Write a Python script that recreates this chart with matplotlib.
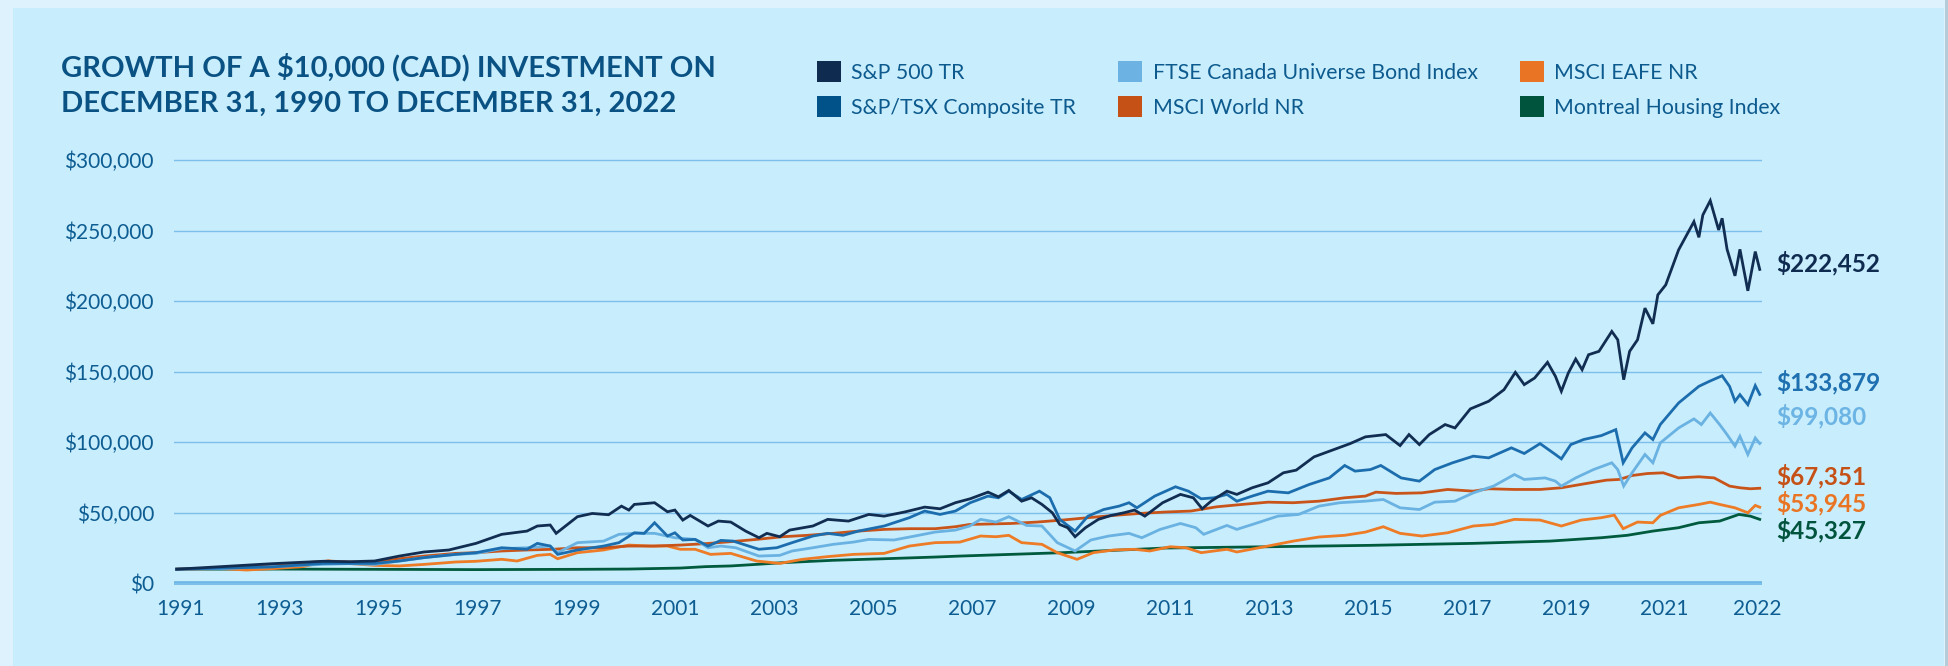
import matplotlib
matplotlib.use("Agg")
import matplotlib.pyplot as plt
import matplotlib.transforms as mtransforms
from matplotlib.patches import Rectangle, Patch

# ---------------- DATA ----------------
series_names = ['S&P 500 TR', 'S&P/TSX Composite TR', 'FTSE Canada Universe Bond Index',
                'MSCI World NR', 'MSCI EAFE NR', 'Montreal Housing Index']

sp500_t = [1991.00, 1991.90, 1992.93, 1993.96, 1994.50, 1995.00, 1995.50, 1996.00, 1996.50, 1997.05,
           1997.57, 1998.08, 1998.29, 1998.55, 1998.67, 1999.10, 1999.40, 1999.73, 1999.99, 2000.14,
           2000.25, 2000.66, 2000.92, 2001.07, 2001.23, 2001.38, 2001.74, 2001.95, 2002.20, 2002.50,
           2002.77, 2002.93, 2003.19, 2003.39, 2003.86, 2004.16, 2004.58, 2004.99, 2005.30, 2005.71,
           2006.12, 2006.43, 2006.74, 2007.04, 2007.40, 2007.61, 2007.82, 2008.08, 2008.28, 2008.49,
           2008.70, 2008.85, 2009.01, 2009.16, 2009.37, 2009.63, 2009.89, 2010.15, 2010.36, 2010.57,
           2010.93, 2011.29, 2011.55, 2011.73, 2011.91, 2012.23, 2012.43, 2012.74, 2013.06, 2013.37,
           2013.63, 2013.99, 2014.30, 2014.72, 2015.03, 2015.44, 2015.73, 2015.91, 2016.12, 2016.32,
           2016.64, 2016.84, 2017.15, 2017.52, 2017.83, 2018.06, 2018.24, 2018.45, 2018.71, 2018.87,
           2018.99, 2019.13, 2019.28, 2019.41, 2019.54, 2019.75, 2020.01, 2020.13, 2020.25, 2020.37,
           2020.53, 2020.68, 2020.84, 2020.94, 2021.10, 2021.36, 2021.67, 2021.77, 2021.85, 2022.00,
           2022.17, 2022.24, 2022.34, 2022.50, 2022.60, 2022.76, 2022.91, 2023.00]
sp500_v = [10000, 11800, 13900, 15600, 15300, 15800, 19300, 22200, 23600, 28300,
           34700, 37000, 40600, 41300, 35400, 47200, 49500, 48600, 54700, 51900,
           55900, 57100, 50700, 51900, 44800, 48100, 40600, 44100, 43400, 37000,
           32300, 35400, 33000, 37700, 40600, 45300, 44100, 48800, 47600, 50500,
           54000, 52800, 57100, 59900, 64600, 61300, 65800, 58200, 60600, 55900,
           50000, 41700, 39400, 33000, 39400, 45300, 48100, 50000, 51900, 47600,
           57100, 63000, 60600, 52800, 58200, 65300, 63000, 67700, 71200, 78300,
           80200, 89600, 93600, 99000, 103800, 105400, 97600, 105400, 98300, 105400,
           112500, 110100, 123600, 129000, 137200, 149500, 140800, 145500, 156600, 146700,
           136100, 149000, 158900, 151400, 162000, 164400, 178500, 172600, 144300, 164400,
           172600, 195000, 183900, 204400, 211500, 236300, 256300, 245200, 261000, 271200,
           250400, 258700, 236700, 217900, 236700, 207300, 235100, 222452]

tsx_t = [1991.00, 1991.90, 1992.93, 1993.96, 1995.00, 1995.50, 1996.00, 1996.64, 1997.05, 1997.57,
         1998.08, 1998.29, 1998.55, 1998.70, 1999.10, 1999.63, 1999.94, 2000.25, 2000.45, 2000.66,
         2000.92, 2001.07, 2001.23, 2001.48, 2001.74, 2002.00, 2002.25, 2002.50, 2002.77, 2003.13,
         2003.44, 2003.86, 2004.16, 2004.47, 2004.78, 2005.30, 2005.81, 2006.12, 2006.43, 2006.74,
         2007.04, 2007.40, 2007.61, 2007.82, 2008.08, 2008.44, 2008.65, 2008.85, 2009.16, 2009.42,
         2009.74, 2010.05, 2010.25, 2010.41, 2010.77, 2011.19, 2011.45, 2011.71, 2011.97, 2012.23,
         2012.43, 2012.74, 2013.06, 2013.47, 2013.89, 2014.30, 2014.61, 2014.82, 2015.13, 2015.34,
         2015.75, 2016.12, 2016.43, 2016.79, 2017.21, 2017.52, 2017.98, 2018.24, 2018.56, 2018.87,
         2018.99, 2019.18, 2019.44, 2019.80, 2020.09, 2020.24, 2020.42, 2020.68, 2020.84, 2020.99,
         2021.36, 2021.77, 2021.98, 2022.24, 2022.39, 2022.50, 2022.60, 2022.76, 2022.91, 2023.00]
tsx_v = [10000, 10800, 11600, 14100, 14100, 15800, 18200, 20500, 21700, 25200,
         24100, 28300, 26400, 20500, 23600, 26400, 28800, 35800, 35400, 42900,
         33500, 35800, 30700, 31100, 26400, 30400, 29900, 27100, 24100, 25200,
         28800, 33500, 35400, 34000, 37000, 40600, 46500, 51200, 48800, 51200,
         57100, 61800, 60600, 65300, 59400, 65300, 60600, 45300, 37000, 47600,
         52300, 54700, 57100, 53500, 61800, 68400, 65300, 59900, 60600, 63000,
         58200, 61800, 65300, 64100, 70000, 74700, 83500, 79500, 80600, 83500,
         74700, 72400, 80600, 85400, 90100, 88900, 96000, 92000, 99000, 91300,
         88200, 98300, 101900, 104700, 108900, 85400, 96000, 106600, 101900, 112500,
         127800, 139600, 143100, 147100, 139600, 129000, 133700, 126600, 140100, 133879]

ftse_t = [1991.00, 1991.90, 1992.93, 1993.96, 1994.47, 1995.00, 1995.50, 1996.00, 1996.64, 1997.05,
          1997.57, 1998.08, 1998.55, 1998.70, 1999.10, 1999.63, 1999.94, 2000.25, 2000.66, 2001.07,
          2001.48, 2001.74, 2002.00, 2002.30, 2002.77, 2003.19, 2003.44, 2003.86, 2004.27, 2004.68,
          2004.99, 2005.50, 2005.92, 2006.33, 2006.74, 2007.03, 2007.25, 2007.56, 2007.82, 2008.18,
          2008.49, 2008.80, 2009.16, 2009.48, 2009.84, 2010.25, 2010.51, 2010.88, 2011.29, 2011.60,
          2011.76, 2012.02, 2012.23, 2012.43, 2012.85, 2013.26, 2013.68, 2014.09, 2014.51, 2015.03,
          2015.39, 2015.73, 2016.12, 2016.43, 2016.84, 2017.21, 2017.62, 2018.04, 2018.24, 2018.66,
          2018.87, 2018.99, 2019.28, 2019.64, 2020.01, 2020.13, 2020.25, 2020.42, 2020.68, 2020.84,
          2020.99, 2021.36, 2021.67, 2021.82, 2022.00, 2022.19, 2022.34, 2022.50, 2022.60, 2022.76,
          2022.91, 2023.00]
ftse_v = [10000, 10400, 11800, 13400, 13900, 13400, 15800, 18200, 20500, 21200,
          24500, 25200, 26400, 21700, 28800, 29900, 34700, 35400, 35400, 32300,
          31100, 25200, 26400, 25200, 19300, 19800, 22900, 25200, 27600, 29200,
          31100, 30700, 33500, 36300, 37700, 40600, 45300, 43400, 47200, 41000,
          40600, 28800, 22900, 30700, 33500, 35400, 32300, 38200, 42400, 39400,
          34700, 38200, 41000, 38200, 42900, 47600, 48800, 54700, 57100, 58200,
          59400, 53500, 52300, 57500, 58200, 64100, 68900, 77100, 73600, 74700,
          72400, 68900, 74700, 80600, 85400, 80600, 68900, 78300, 91300, 85400,
          99500, 110100, 116500, 112500, 120700, 112500, 105400, 97200, 104200, 91300,
          103000, 99080]

world_t = [1991.00, 1991.90, 1992.93, 1994.06, 1994.47, 1995.00, 1995.50, 1996.00, 1996.64, 1997.05,
           1997.57, 1998.08, 1998.60, 1999.10, 1999.63, 2000.14, 2000.66, 2001.18, 2001.69, 2002.20,
           2002.72, 2003.24, 2003.75, 2004.27, 2004.78, 2005.30, 2005.81, 2006.33, 2006.74, 2007.03,
           2007.87, 2008.39, 2008.90, 2009.42, 2009.94, 2010.46, 2010.98, 2011.50, 2012.02, 2012.54,
           2013.06, 2013.57, 2014.09, 2014.61, 2015.03, 2015.24, 2015.65, 2016.17, 2016.69, 2017.21,
           2017.52, 2018.04, 2018.56, 2018.99, 2019.49, 2019.90, 2020.16, 2020.42, 2020.73, 2021.05,
           2021.36, 2021.77, 2022.08, 2022.39, 2022.60, 2022.81, 2023.00]
world_v = [10000, 10800, 12700, 15800, 15100, 14600, 17400, 19300, 21200, 21700,
           22900, 23600, 24100, 25200, 25200, 26400, 26400, 27100, 28100, 29500,
           31100, 33000, 34000, 35400, 37000, 38200, 38700, 38700, 40100, 41700,
           42400, 43400, 44800, 46500, 48100, 49500, 50500, 51200, 54200, 55900,
           57500, 57100, 58200, 60600, 61800, 64600, 63700, 64100, 66500, 65300,
           67000, 66500, 66500, 67700, 70700, 73100, 73600, 76400, 77800, 78300,
           74700, 75500, 74700, 68900, 67700, 67000, 67351]

eafe_t = [1991.00, 1991.90, 1992.41, 1992.93, 1993.55, 1994.06, 1994.47, 1995.00, 1995.50, 1996.00,
          1996.64, 1997.05, 1997.57, 1997.88, 1998.29, 1998.55, 1998.70, 1999.10, 1999.63, 2000.14,
          2000.56, 2000.92, 2001.18, 2001.48, 2001.79, 2002.20, 2002.72, 2003.19, 2003.65, 2004.16,
          2004.68, 2005.30, 2005.81, 2006.33, 2006.83, 2007.25, 2007.56, 2007.82, 2008.08, 2008.49,
          2008.80, 2009.20, 2009.53, 2009.94, 2010.36, 2010.67, 2011.08, 2011.40, 2011.71, 2012.23,
          2012.43, 2013.06, 2013.57, 2014.09, 2014.61, 2015.03, 2015.39, 2015.73, 2016.17, 2016.69,
          2017.21, 2017.62, 2018.04, 2018.56, 2018.99, 2019.39, 2019.80, 2020.06, 2020.24, 2020.53,
          2020.84, 2020.99, 2021.36, 2021.77, 2022.00, 2022.19, 2022.50, 2022.76, 2022.91, 2023.00]
eafe_v = [10000, 10400, 9400, 10400, 11800, 15800, 14100, 12700, 12300, 13400,
          15100, 15600, 17000, 15800, 19800, 20500, 17400, 21700, 23600, 27100,
          26400, 26400, 24100, 24100, 20500, 21200, 15800, 14100, 17000, 18900,
          20500, 21200, 26400, 28800, 29200, 33500, 33000, 34000, 28800, 27600,
          21700, 17000, 21700, 23600, 24100, 22900, 25900, 25200, 21700, 24100,
          22200, 26400, 29900, 32800, 34000, 36300, 40100, 35400, 33500, 35800,
          40600, 41700, 45300, 44800, 40600, 44800, 46500, 48300, 38700, 43400,
          42900, 48100, 53500, 55900, 57500, 55900, 53500, 50000, 55200, 53945]

montreal_t = [1991.00, 1992.93, 1995.00, 1997.05, 1999.10, 2000.14, 2001.18, 2001.69, 2002.20, 2002.72,
              2003.24, 2004.27, 2005.30, 2006.33, 2006.83, 2008.90, 2010.98, 2013.06, 2015.13, 2017.21,
              2018.76, 2019.80, 2020.32, 2020.84, 2021.36, 2021.77, 2022.19, 2022.58, 2022.81, 2023.00]
montreal_v = [10000, 10100, 9900, 9700, 9900, 10100, 10800, 11800, 12300, 13400,
              14600, 16300, 17400, 18600, 19300, 21700, 25000, 25900, 26900, 28300,
              29900, 32300, 34000, 37000, 39400, 42900, 44100, 48800, 47600, 45327]

y_ticks = [0, 50000, 100000, 150000, 200000, 250000, 300000]
x_tick_labels = ['1991', '1993', '1995', '1997', '1999', '2001', '2003', '2005', '2007',
                 '2009', '2011', '2013', '2015', '2017', '2019', '2021', '2022']

title_lines = ['GROWTH OF A $10,000 (CAD) INVESTMENT ON',
               'DECEMBER 31, 1990 TO DECEMBER 31, 2022']

# ---------------- STYLE / LAYOUT ----------------
W, H = 1949, 666
FONT = ['Lato', 'DejaVu Sans']
plt.rcParams['font.family'] = FONT

legend_colors = ['#0F2B50', '#005288', '#6CB3E3', '#C55116', '#E87424', '#00533C']
line_colors = ['#112D52', '#1C6DAE', '#6AB2E2', '#C8541A', '#EE7B25', '#005A3E']
label_colors = ['#0F2B50', '#1F70B0', '#6CB4E4', '#C55116', '#E97524', '#00533C']
tick_color = '#0E5D92'
title_color = '#0A5283'
panel_color = '#C8EDFC'
outer_color = '#DDF2FC'
grid_color = '#7BBFEA'

# end-label vertical positions (in value units, spread to avoid overlap)
label_y = [227000, 142700, 118800, 76000, 56900, 37800]
# x positions of year labels (label placed near start of year, last at end)
x_tick_pos = [int(s) + 0.08 for s in x_tick_labels[:-1]] + [2022.95]

def fx(px):
    return px / W

def fy(py):
    return 1 - py / H

fig = plt.figure(figsize=(W / 100, H / 100), dpi=100)
fig.patch.set_facecolor(outer_color)
fig.patches.append(Rectangle((fx(13), 0), fx(1944) - fx(13), fy(8), transform=fig.transFigure,
                             facecolor=panel_color, edgecolor='none', zorder=-5))
fig.patches.append(Rectangle((fx(1945), 0), fx(1949) - fx(1945), 1, transform=fig.transFigure,
                             facecolor='#B4CCD8', edgecolor='none', zorder=-5))

ax_left, ax_right = 174, 1761.7
ax_top, ax_bottom = 155.77, 587.53
ax = fig.add_axes([fx(ax_left), fy(ax_bottom), fx(ax_right) - fx(ax_left), (ax_bottom - ax_top) / H])
ax.set_zorder(2)
ax.set_facecolor('none')
ax.set_xlim(1990.945, 2023.04)
ax.set_ylim(-3000, 303000)
for s in ax.spines.values():
    s.set_visible(False)

ax.set_yticks(y_ticks)
ax.set_yticklabels(['${:,}'.format(v) for v in y_ticks])
ax.set_xticks(x_tick_pos)
ax.set_xticklabels(x_tick_labels)
ax.tick_params(axis='y', length=0, pad=14.4, labelsize=15, labelcolor=tick_color)
ax.tick_params(axis='x', length=0, pad=8, labelsize=15, labelcolor=tick_color)
ax.grid(axis='y', color=grid_color, linewidth=1.0, zorder=1)
ax.grid(axis='x', visible=False)
ax.axhline(0, color='#6DB4E5', linewidth=2.6, zorder=1.5)

series_t = [sp500_t, tsx_t, ftse_t, world_t, eafe_t, montreal_t]
series_v = [sp500_v, tsx_v, ftse_v, world_v, eafe_v, montreal_v]
draw_order = [5, 4, 3, 2, 1, 0]
for z, i in enumerate(draw_order):
    ax.plot(series_t[i], series_v[i], color=line_colors[i], linewidth=2.0,
            solid_joinstyle='miter', zorder=3 + z)

ax_w_px = ax_right - ax_left
blend = mtransforms.blended_transform_factory(ax.transAxes, ax.transData)
for i in range(6):
    ax.text(1 + 14.5 / ax_w_px, label_y[i], '${:,}'.format(series_v[i][-1]), transform=blend,
            ha='left', va='center', fontsize=17.5, fontweight='bold', color=label_colors[i],
            clip_on=False)

# title
fig.text(fx(61), fy(76), title_lines[0], ha='left', va='baseline', fontsize=21,
         fontweight='bold', color=title_color)
fig.text(fx(61), fy(112), title_lines[1], ha='left', va='baseline', fontsize=21,
         fontweight='bold', color=title_color)

# legend
handles = [Patch(facecolor=c, edgecolor='none') for c in legend_colors]
fs_leg = 15.3
fs_px = fs_leg * 100 / 72
leg = fig.legend(handles, series_names, ncol=3, loc='upper left',
                 bbox_to_anchor=(fx(816.7), fy(61)), frameon=False, fontsize=fs_leg,
                 handlelength=24 / fs_px, handleheight=24 / fs_px, handletextpad=10.5 / fs_px,
                 labelspacing=(37.7 - 24) / fs_px, columnspacing=42 / fs_px,
                 borderpad=0, borderaxespad=0, labelcolor='#0C5A8E')

fig.savefig('out.png', dpi=100, facecolor=fig.get_facecolor())
